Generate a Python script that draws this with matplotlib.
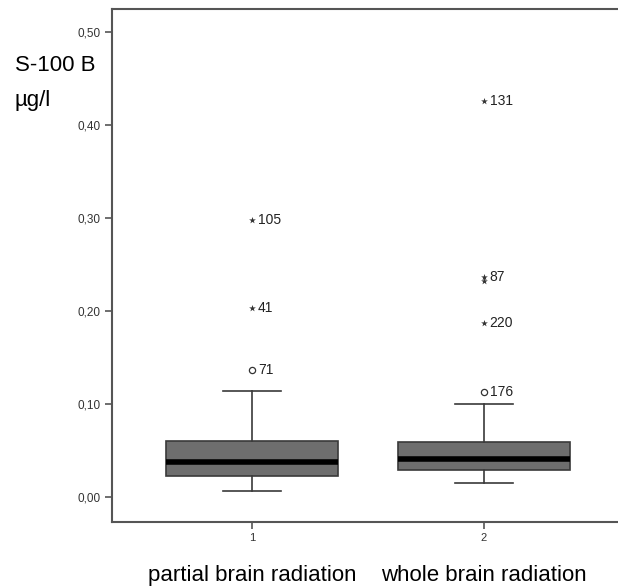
import numpy as np
import matplotlib.pyplot as plt

plt.rcParams['font.family'] = ['Liberation Sans', 'DejaVu Sans']

groups = ["partial brain radiation", "whole brain radiation"]
positions = [1, 2]
# box statistics (µg/l)
whislo = [0.0065, 0.0147]
q1 = [0.0226, 0.029]
med = [0.0376, 0.0405]
q3 = [0.060, 0.0595]
whishi = [0.114, 0.100]

# outliers: (group, value, case number)
circle_grp = [1, 2]
circle_val = [0.1366, 0.113]
circle_lab = ["71", "176"]
star_grp = [1, 1, 2, 2, 2, 2]
star_val = [0.298, 0.203, 0.426, 0.237, 0.232, 0.187]
star_lab = ["105", "41", "131", "87", "", "220"]

yticks = [0.0, 0.1, 0.2, 0.3, 0.4, 0.5]

fig = plt.figure(figsize=(6.18, 5.86), dpi=100)
ax = fig.add_axes([0.1812, 0.1092, 0.8188, 0.8754])

stats = []
for i in range(2):
    stats.append(dict(med=med[i], q1=q1[i], q3=q3[i], whislo=whislo[i],
                      whishi=whishi[i], fliers=[]))
ax.bxp(stats, positions=positions, widths=0.745, patch_artist=True,
       boxprops=dict(facecolor='#6e6e6e', edgecolor='#3a3a3a', linewidth=1.2),
       medianprops=dict(color='black', linewidth=4),
       whiskerprops=dict(color='#3a3a3a', linewidth=1.2),
       capprops=dict(color='#3a3a3a', linewidth=1.2),
       capwidths=0.25)

ax.scatter(circle_grp, circle_val, s=20, facecolors='white', edgecolors='#333333',
           linewidths=0.9, zorder=3)
ax.scatter(star_grp, star_val, s=26, marker='*', color='#333333', linewidths=0, zorder=3)
for g, v, t in zip(circle_grp, circle_val, circle_lab):
    ax.text(g + 0.025, v, t, fontsize=10, va='center', ha='left', color='#222222')
for g, v, t in zip(star_grp, star_val, star_lab):
    if t:
        ax.text(g + 0.025, v, t, fontsize=10, va='center', ha='left', color='#222222')

ax.set_xlim(0.394, 2.58)
ax.set_ylim(-0.027, 0.525)
ax.set_yticks(yticks)
ax.set_yticklabels([f"{t:.2f}".replace('.', ',') for t in yticks], fontsize=8.5,
                   color='#333333')
ax.set_xticks(positions)
ax.set_xticklabels(["1", "2"], fontsize=8, color='#333333')
ax.tick_params(axis='both', direction='out', length=5, width=1.2, color='#555555', pad=3)

for s in ['left', 'top', 'bottom']:
    ax.spines[s].set_color('#555555')
    ax.spines[s].set_linewidth(1.5)
ax.spines['right'].set_visible(False)

fig.text(0.024, 0.888, "S-100 B", fontsize=16, va='center', ha='left')
fig.text(0.024, 0.828, "µg/l", fontsize=16, va='center', ha='left')
for p, g in zip(positions, groups):
    ax.annotate(g, xy=(p, 0), xycoords=('data', 'axes fraction'),
                xytext=(0, -31), textcoords='offset points',
                ha='center', va='top', fontsize=16)

fig.savefig("out.png", dpi=100)
